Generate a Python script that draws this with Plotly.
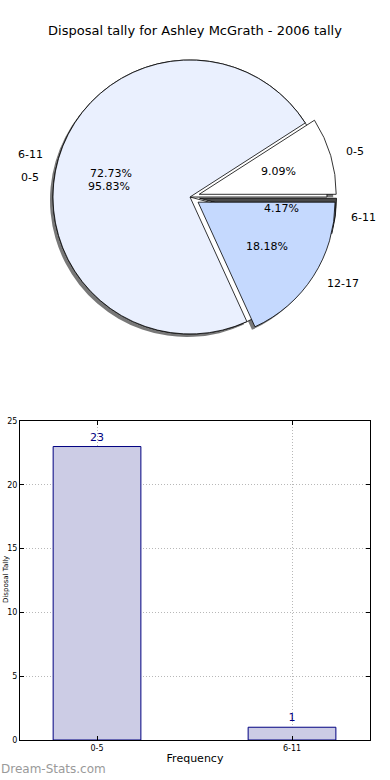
import math
import plotly.graph_objects as go

W, H = 390, 780

title_text = "Disposal tally for Ashley McGrath - 2006 tally"

# Pie 1 (percent share by band)
pie1_labels = ["0-5", "6-11", "12-17"]
pie1_values = [1, 8, 2]
pie1_colors = ["#ffffff", "#eaf0fe", "#c5d9fe"]
pie1_pull = [0.07, 0.0, 0.07]

# Pie 2
pie2_labels = ["0-5", "6-11"]
pie2_values = [23, 1]
pie2_colors = ["#ffffff", "#4a4a4a"]
pie2_pull = [0.0, 0.07]

# Bar chart
bar_categories = ["0-5", "6-11"]
bar_values = [23, 1]
y_ticks = [0, 5, 10, 15, 20, 25]

# geometry (pixels)
cx, cy, r = 190, 197, 137
maxpull = 0.07
half = r * (1 + maxpull)


def px(x):
    return x / W


def py(y):
    return 1 - y / H


def rot_for(values):
    # plotly (counterclockwise) places the first slice ending at `rotation`;
    # shift so that the first slice starts at 3 o'clock like matplotlib
    return 90 - 360.0 * values[0] / sum(values)


dom_x = [px(cx - half), px(cx + half)]
dom_y = [py(cy + half), py(cy - half)]
sh_dx, sh_dy = -3, 3
dom_x_sh = [px(cx - half + sh_dx), px(cx + half + sh_dx)]
dom_y_sh = [py(cy + half + sh_dy), py(cy - half + sh_dy)]

fig = go.Figure()

common = dict(sort=False, direction="counterclockwise",
              textinfo="none", hoverinfo="skip", showlegend=False)

# shadow
fig.add_trace(go.Pie(labels=pie1_labels, values=pie1_values, pull=pie1_pull,
                     rotation=rot_for(pie1_values),
                     marker=dict(colors=["#6a6a6a"] * 3, line=dict(width=0)),
                     domain=dict(x=dom_x_sh, y=dom_y_sh), opacity=0.9, **common))
fig.add_trace(go.Pie(labels=pie2_labels, values=pie2_values, pull=pie2_pull,
                     rotation=rot_for(pie2_values),
                     marker=dict(colors=pie2_colors, line=dict(color="black", width=0.8)),
                     domain=dict(x=dom_x, y=dom_y), **common))
fig.add_trace(go.Pie(labels=pie1_labels, values=pie1_values, pull=pie1_pull,
                     rotation=rot_for(pie1_values),
                     marker=dict(colors=pie1_colors, line=dict(color="black", width=0.8)),
                     domain=dict(x=dom_x, y=dom_y), **common))

annotations = []
font_pie = dict(family="DejaVu Sans", size=11, color="black")


def add_pie_text(labels, values, pulls):
    total = sum(values)
    start = 0.0
    for lab, v, p in zip(labels, values, pulls):
        ang = 360.0 * v / total
        mid = math.radians(start + ang / 2)
        start += ang
        c, s = math.cos(mid), math.sin(mid)
        # percent text
        d = (p + 0.6) * r
        annotations.append(dict(x=px(cx + d * c), y=py(cy - d * s), xref="paper", yref="paper",
                                text=f"{100 * v / total:.2f}%", showarrow=False,
                                font=font_pie, xanchor="center", yanchor="middle"))
        d = (p + 1.1) * r
        annotations.append(dict(x=px(cx + d * c), y=py(cy - d * s), xref="paper", yref="paper",
                                text=lab, showarrow=False, font=font_pie,
                                xanchor="left" if c > 0 else "right", yanchor="middle"))


add_pie_text(pie1_labels, pie1_values, pie1_pull)
add_pie_text(pie2_labels, pie2_values, pie2_pull)

# bar chart
fig.add_trace(go.Bar(x=bar_categories, y=bar_values, width=0.45,
                     marker=dict(color="#ccccE5", line=dict(color="#000080", width=1)),
                     text=[str(v) for v in bar_values], textposition="outside",
                     textfont=dict(family="DejaVu Sans", size=11, color="#000080"),
                     cliponaxis=False, hoverinfo="skip", showlegend=False))

grid = dict(showgrid=True, gridcolor="#b8b8b8", griddash="1px,2px", gridwidth=1)
fig.update_layout(
    width=W, height=H, margin=dict(l=0, r=0, t=0, b=0, pad=0, autoexpand=False),
    paper_bgcolor="white", plot_bgcolor="white",
    font=dict(family="DejaVu Sans", color="black"),
    title=dict(text=title_text, x=0.5, xanchor="center", y=py(30), yanchor="middle",
               font=dict(family="DejaVu Sans", size=13, color="black")),
    xaxis=dict(domain=[px(20), px(370)], range=[-0.395, 1.4], type="category",
               showline=True, linecolor="black", linewidth=1, mirror="ticks",
               ticks="inside", ticklen=4, tickcolor="black", automargin=False,
               tickfont=dict(size=8, family="DejaVu Sans"),
               title=dict(text="Frequency", font=dict(size=11, family="DejaVu Sans"), standoff=2),
               anchor="y", **grid),
    yaxis=dict(domain=[py(740), py(421)], range=[0, 25], tickvals=y_ticks,
               showline=True, linecolor="black", linewidth=1, mirror="ticks",
               ticks="inside", ticklen=4, tickcolor="black", automargin=False,
               tickfont=dict(size=8, family="DejaVu Sans"),
               anchor="x", zeroline=False, **grid),
    annotations=annotations + [
        dict(x=px(-1), y=py(769), xref="paper", yref="paper", text="Dream-Stats.com",
             showarrow=False, xanchor="left", yanchor="middle",
             font=dict(family="DejaVu Sans", size=12, color="#9a9a9a")),
        dict(x=px(0), y=py(580), xref="paper", yref="paper", text="Disposal Tally",
             textangle=-90, showarrow=False, xanchor="left", yanchor="middle",
             font=dict(family="DejaVu Sans", size=7, color="black")),
    ],
)

fig.write_html("out.html", config={"displayModeBar": False},
               post_script="document.body.style.margin='0';document.body.style.overflow='hidden';")
